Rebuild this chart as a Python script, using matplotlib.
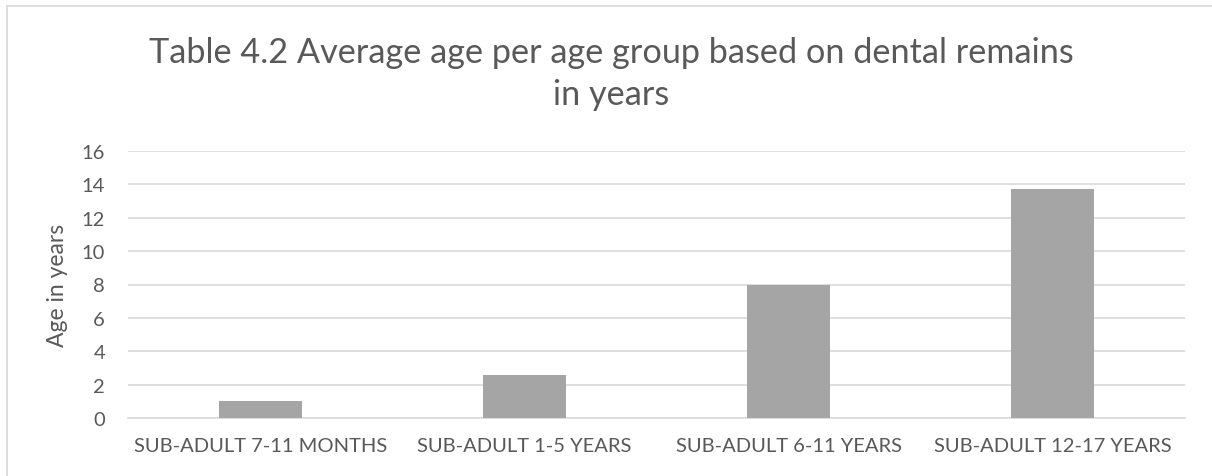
import matplotlib.pyplot as plt
from matplotlib.lines import Line2D

categories = ["SUB-ADULT 7-11 MONTHS", "SUB-ADULT 1-5 YEARS",
              "SUB-ADULT 6-11 YEARS", "SUB-ADULT 12-17 YEARS"]
avg_age = [1.0, 2.6, 8.0, 13.7]
y_ticks = [0, 2, 4, 6, 8, 10, 12, 14, 16]
title_lines = ["Table 4.2 Average age per age group based on dental remains", "in years"]

plt.rcParams["font.family"] = ["Lato", "DejaVu Sans"]
text_color = "#595959"
W, H = 1212, 477

fig = plt.figure(figsize=(W / 100, H / 100), dpi=100)
ax = fig.add_axes([128 / W, 1 - 419 / H, (1185 - 128) / W, (419 - 152) / H])

x = range(len(categories))
ax.bar(x, avg_age, width=0.315, color="#a5a5a5", zorder=3)

ax.set_xlim(-0.5, len(categories) - 0.5)
ax.set_ylim(0, 16)
ax.set_yticks(y_ticks)
ax.set_xticks(list(x))
ax.set_xticklabels(categories)
ax.grid(axis="y", color="#d9d9d9", linewidth=1.2, zorder=0)
ax.tick_params(length=0, labelsize=14.5, colors=text_color)
ax.tick_params(axis="x", pad=14)
ax.tick_params(axis="y", pad=16.5)
for s in ["top", "right", "left"]:
    ax.spines[s].set_visible(False)
ax.spines["bottom"].set_color("#d9d9d9")
ax.spines["bottom"].set_linewidth(1.2)

ax.set_ylabel("Age in years", fontsize=16.5, color=text_color, va="center")
ax.yaxis.set_label_coords((57 - 128) / (1185 - 128), 0.5)

fig.text(611 / W, 1 - 63 / H, title_lines[0], ha="center", va="baseline",
         fontsize=24.7, color=text_color)
fig.text(611 / W, 1 - 105 / H, title_lines[1], ha="center", va="baseline",
         fontsize=24.7, color=text_color)

# chart border (only left and top visible in the crop)
fig.add_artist(Line2D([7 / W, 7 / W], [0, 1 - 7 / H], transform=fig.transFigure,
                      color="#d9d9d9", linewidth=1.2))
fig.add_artist(Line2D([7 / W, 1], [1 - 7 / H, 1 - 7 / H], transform=fig.transFigure,
                      color="#d9d9d9", linewidth=1.2))

fig.savefig("out.png", dpi=100)
